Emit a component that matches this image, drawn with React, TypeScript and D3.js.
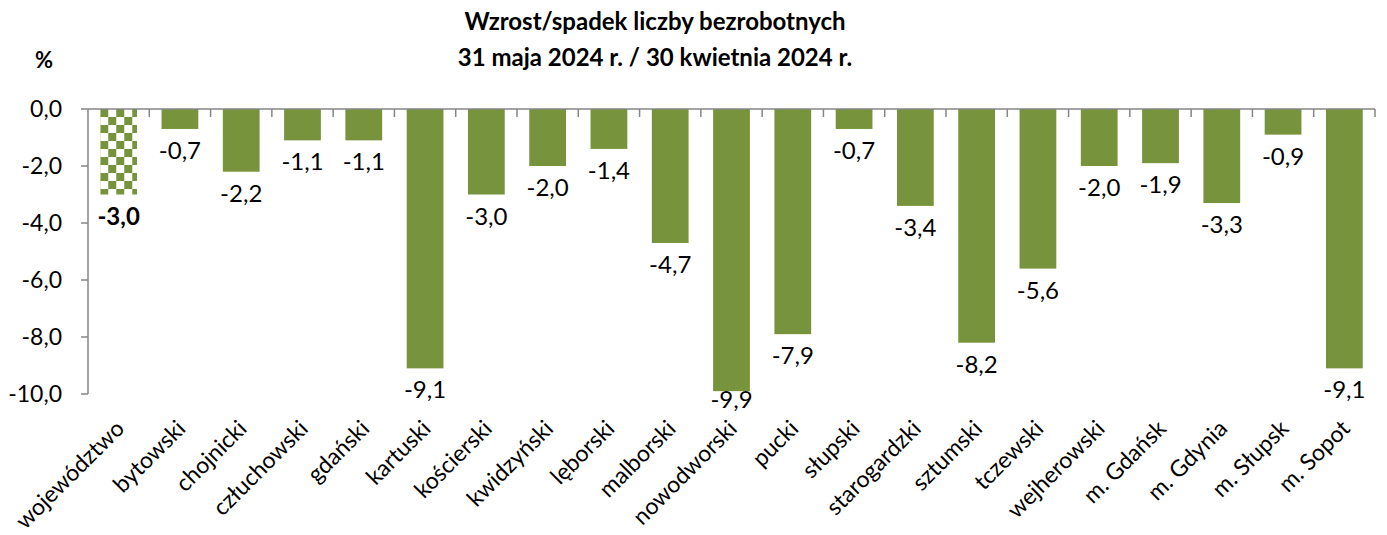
import * as d3 from 'd3';

const categories = [
  'województwo', 'bytowski', 'chojnicki', 'człuchowski', 'gdański', 'kartuski',
  'kościerski', 'kwidzyński', 'lęborski', 'malborski', 'nowodworski', 'pucki',
  'słupski', 'starogardzki', 'sztumski', 'tczewski', 'wejherowski',
  'm. Gdańsk', 'm. Gdynia', 'm. Słupsk', 'm. Sopot',
];
const values = [
  -3.0, -0.7, -2.2, -1.1, -1.1, -9.1, -3.0, -2.0, -1.4, -4.7, -9.9, -7.9,
  -0.7, -3.4, -8.2, -5.6, -2.0, -1.9, -3.3, -0.9, -9.1,
];
const yTicks = [0, -2, -4, -6, -8, -10];
const titleLines = ['Wzrost/spadek liczby bezrobotnych', '31 maja 2024 r. / 30 kwietnia 2024 r.'];

const GREEN = '#77933c';
const AXIS = '#868686';
const FONT = 'Lato, "Open Sans", sans-serif';

export default function App() {
  const width = 1387;
  const height = 535;
  const left = 88;
  const right = 1375;
  const top = 109;
  const bottom = 394;

  const x = d3.scaleBand<string>()
    .domain(categories)
    .range([left, right])
    .paddingInner(0.4)
    .paddingOuter(0.2);
  const y = d3.scaleLinear().domain([-10, 0]).range([bottom, top]);
  const step = x.step();
  const fmt = (v: number) => d3.format('.1f')(v).replace('.', ',').replace('−', '-');

  return (
    <svg width={width} height={height} style={{ position: 'absolute', left: 0, top: 0, fontFamily: FONT }}>
      <defs>
        <pattern id="checker" width={16} height={16} patternUnits="userSpaceOnUse" x={x(categories[0])} y={top}>
          <rect width={16} height={16} fill="#fff" />
          <rect x={0} y={0} width={8} height={8} fill={GREEN} />
          <rect x={8} y={8} width={8} height={8} fill={GREEN} />
        </pattern>
      </defs>
      <rect width={width} height={height} fill="#fff" />

      {/* tytuł */}
      <text x={655} y={30} textAnchor="middle" fontSize={24} fontWeight="bold">{titleLines[0]}</text>
      <text x={655} y={66} textAnchor="middle" fontSize={24} fontWeight="bold">{titleLines[1]}</text>
      <text x={44} y={68} textAnchor="middle" fontSize={22} fontWeight="bold">%</text>

      {/* słupki */}
      {categories.map((c, i) => (
        <rect
          key={c}
          x={x(c)}
          y={y(0)}
          width={x.bandwidth()}
          height={y(values[i]) - y(0)}
          fill={i === 0 ? 'url(#checker)' : GREEN}
        />
      ))}

      {/* oś Y */}
      <line x1={left} x2={left} y1={top} y2={bottom} stroke={AXIS} strokeWidth={1.5} />
      {yTicks.map(t => (
        <g key={t}>
          <line x1={left - 7} x2={left} y1={y(t)} y2={y(t)} stroke={AXIS} strokeWidth={1.5} />
          <text x={62} y={y(t)} dy="0.36em" textAnchor="end" fontSize={23}>{fmt(t)}</text>
        </g>
      ))}

      {/* oś X (przy zerze) */}
      <line x1={left} x2={right} y1={y(0)} y2={y(0)} stroke={AXIS} strokeWidth={1.5} />
      {categories.map(c => (
        <line
          key={c}
          x1={x(c)! - step * 0.2 + step}
          x2={x(c)! - step * 0.2 + step}
          y1={y(0)}
          y2={y(0) + 8}
          stroke={AXIS}
          strokeWidth={1.5}
        />
      ))}

      {/* etykiety wartości */}
      {categories.map((c, i) => (
        <text
          key={c}
          x={x(c)! + x.bandwidth() / 2}
          y={Math.min(y(values[i]) + 30, y(-10) + 14)}
          textAnchor="middle"
          fontSize={24}
          fontWeight={i === 0 ? 'bold' : 'normal'}
        >
          {fmt(values[i])}
        </text>
      ))}

      {/* etykiety kategorii */}
      {categories.map(c => {
        const cx = x(c)! + x.bandwidth() / 2 + 7;
        const cy = 430;
        return (
          <text
            key={c}
            transform={`translate(${cx},${cy}) rotate(-45)`}
            textAnchor="end"
            fontSize={23}
          >
            {c}
          </text>
        );
      })}
    </svg>
  );
}
